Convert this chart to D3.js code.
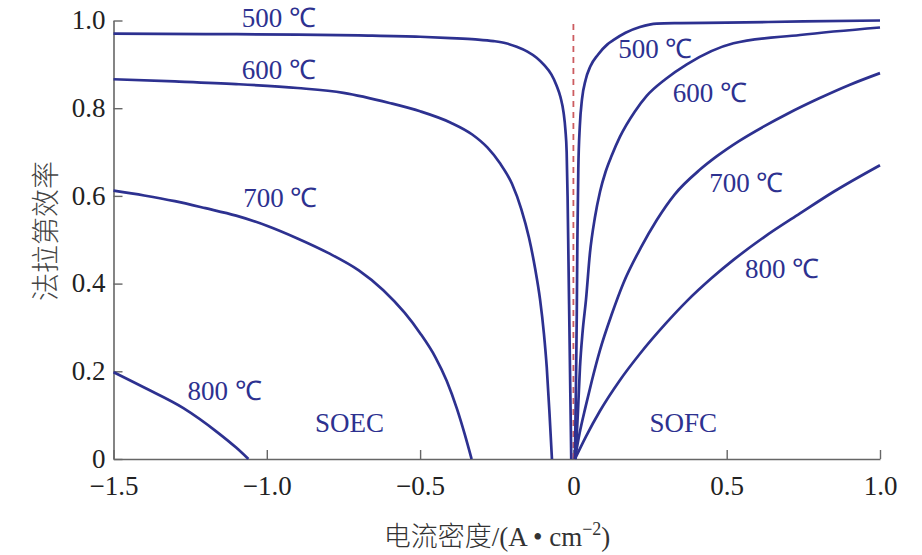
<!DOCTYPE html>
<html><head><meta charset="utf-8">
<script src="https://cdn.jsdelivr.net/npm/d3@7"></script>
<style>
html,body{margin:0;padding:0;background:#fff;}
svg{display:block;}
</style></head>
<body>
<svg id="chart" width="922" height="555"></svg>
<script>
// ---- data ----
const xTicks = [-1.5, -1.0, -0.5, 0, 0.5, 1.0];
const xTickLabels = ["\u22121.5", "\u22121.0", "\u22120.5", "0", "0.5", "1.0"];
const yTicks = [0, 0.2, 0.4, 0.6, 0.8, 1.0];
const yTickLabels = ["0", "0.2", "0.4", "0.6", "0.8", "1.0"];

const soec500 = [[-1.5,0.970],[-1.2,0.969],[-0.9,0.968],[-0.7,0.966],[-0.5,0.963],[-0.4,0.960],[-0.32,0.957],[-0.26,0.953],[-0.22,0.948],[-0.185,0.940],[-0.15,0.929],[-0.12,0.915],[-0.095,0.898],[-0.072,0.877],[-0.055,0.852],[-0.042,0.825],[-0.032,0.790],[-0.026,0.750],[-0.022,0.700],[-0.019,0.600],[-0.016,0.450],[-0.013,0.300],[-0.010,0.150],[-0.007,0.0]];
const soec600 = [[-1.5,0.866],[-1.3,0.861],[-1.1,0.855],[-0.9,0.846],[-0.75,0.835],[-0.6,0.812],[-0.5,0.793],[-0.4,0.767],[-0.33,0.740],[-0.28,0.710],[-0.24,0.675],[-0.2,0.627],[-0.17,0.570],[-0.145,0.505],[-0.125,0.435],[-0.109,0.365],[-0.096,0.285],[-0.087,0.210],[-0.078,0.105],[-0.070,0.0]];
const soec700 = [[-1.5,0.612],[-1.4,0.601],[-1.3,0.588],[-1.2,0.572],[-1.1,0.555],[-1.0,0.532],[-0.9,0.503],[-0.8,0.470],[-0.7,0.430],[-0.62,0.385],[-0.55,0.333],[-0.5,0.287],[-0.45,0.232],[-0.413,0.178],[-0.38,0.115],[-0.355,0.058],[-0.332,0.0]];
const soec800 = [[-1.5,0.198],[-1.4,0.163],[-1.272,0.116],[-1.163,0.062],[-1.10,0.026],[-1.06,0.0]];

const sofc500 = [[0.005,0.0],[0.008,0.150],[0.011,0.330],[0.013,0.500],[0.016,0.660],[0.021,0.760],[0.028,0.820],[0.040,0.865],[0.055,0.895],[0.080,0.922],[0.110,0.945],[0.130,0.955],[0.170,0.972],[0.217,0.985],[0.272,0.993],[0.35,0.994],[0.5,0.995],[0.75,0.998],[1.0,1.0]];
const sofc600 = [[0.007,0.0],[0.015,0.110],[0.0215,0.210],[0.030,0.290],[0.041,0.363],[0.054,0.470],[0.070,0.550],[0.087,0.610],[0.105,0.655],[0.125,0.692],[0.152,0.735],[0.2,0.792],[0.239,0.828],[0.3,0.866],[0.37,0.900],[0.522,0.948],[0.739,0.967],[1.0,0.984]];
const sofc700 = [[0.005,0.0],[0.02,0.058],[0.04,0.120],[0.060,0.178],[0.087,0.249],[0.125,0.330],[0.163,0.401],[0.22,0.482],[0.272,0.545],[0.33,0.603],[0.413,0.660],[0.467,0.690],[0.54,0.725],[0.62,0.758],[0.7,0.788],[0.8,0.822],[0.9,0.853],[1.0,0.880]];
const sofc800 = [[0.005,0.0],[0.040,0.050],[0.087,0.110],[0.15,0.178],[0.217,0.240],[0.30,0.308],[0.37,0.360],[0.45,0.412],[0.522,0.454],[0.62,0.505],[0.739,0.560],[0.85,0.610],[1.0,0.670]];

const seriesList = [soec500, soec600, soec700, soec800, sofc500, sofc600, sofc700, sofc800];

const labelTexts = ["500 \u2103","600 \u2103","700 \u2103","800 \u2103","500 \u2103","600 \u2103","700 \u2103","800 \u2103","SOEC","SOFC"];
const labelX = [-1.082,-1.082,-1.077,-1.259,0.146,0.324,0.443,0.560,-0.843,0.248];
const labelY = [0.986,0.867,0.574,0.135,0.914,0.813,0.610,0.412,0.062,0.062];

const divider = [[0,0],[0,1.0]];

// ---- drawing ----
const svg = d3.select("#chart");
const x = d3.scaleLinear().domain([-1.5, 1.0]).range([113.5, 880]);
const y = d3.scaleLinear().domain([0, 1.0]).range([459, 20.5]);

const serif = "'Liberation Serif','Times New Roman',serif";
const cjk = "'Noto Sans CJK SC','Noto Sans CJK JP',sans-serif";
const navy = "#2d3190";

const xAxis = d3.axisBottom(x).tickValues(xTicks).tickFormat((d,i)=>xTickLabels[i]).tickSizeInner(-9).tickSizeOuter(0).tickPadding(17);
const yAxis = d3.axisLeft(y).tickValues(yTicks).tickFormat((d,i)=>yTickLabels[i]).tickSizeInner(-9).tickSizeOuter(0).tickPadding(8);

const gx = svg.append("g").attr("transform","translate(0,459)").call(xAxis);
const gy = svg.append("g").attr("transform","translate(113.5,0)").call(yAxis);
[gx, gy].forEach(g => {
  g.select(".domain").attr("stroke","#666").attr("stroke-width",1.6);
  g.selectAll(".tick line").attr("stroke","#666").attr("stroke-width",1.4);
  g.selectAll(".tick text").attr("fill","#222").style("font-family",serif).style("font-size","27px");
});
gy.selectAll(".tick text").attr("dy","0.3em");

// dashed divider at 0
svg.append("path")
  .attr("d", d3.line().x(d=>x(d[0])).y(d=>y(d[1]))(divider))
  .attr("stroke","#cc5c60").attr("stroke-width",1.8).attr("stroke-dasharray","6,5").attr("fill","none");

const line = d3.line().x(d=>x(d[0])).y(d=>y(d[1])).curve(d3.curveMonotoneX);
svg.append("g").selectAll("path").data(seriesList).join("path")
  .attr("d", line)
  .attr("fill","none").attr("stroke",navy).attr("stroke-width",2.7)
  .attr("stroke-linejoin","round").attr("stroke-linecap","butt");

svg.append("g").selectAll("text").data(labelTexts).join("text")
  .attr("x",(d,i)=>x(labelX[i])).attr("y",(d,i)=>y(labelY[i]))
  .attr("fill",navy).style("font-family",serif).style("font-size","27px")
  .text(d=>d);

// axis titles
svg.append("text").attr("transform","translate(56,231) rotate(-90)")
  .attr("text-anchor","middle").attr("fill","#444")
  .style("font-family",cjk).style("font-weight","300").style("font-size","28px").text("法拉第效率");

const xt = svg.append("text").attr("x",497).attr("y",546).attr("text-anchor","middle").attr("fill","#333").style("font-size","27px");
xt.append("tspan").style("font-family",cjk).style("font-weight","300").text("电流密度");
xt.append("tspan").style("font-family",serif).text("/(A \u2022 cm");
xt.append("tspan").style("font-family",serif).style("font-size","18px").attr("dy","-11").text("\u22122");
xt.append("tspan").style("font-family",serif).attr("dy","11").text(")");
</script>
</body></html>
